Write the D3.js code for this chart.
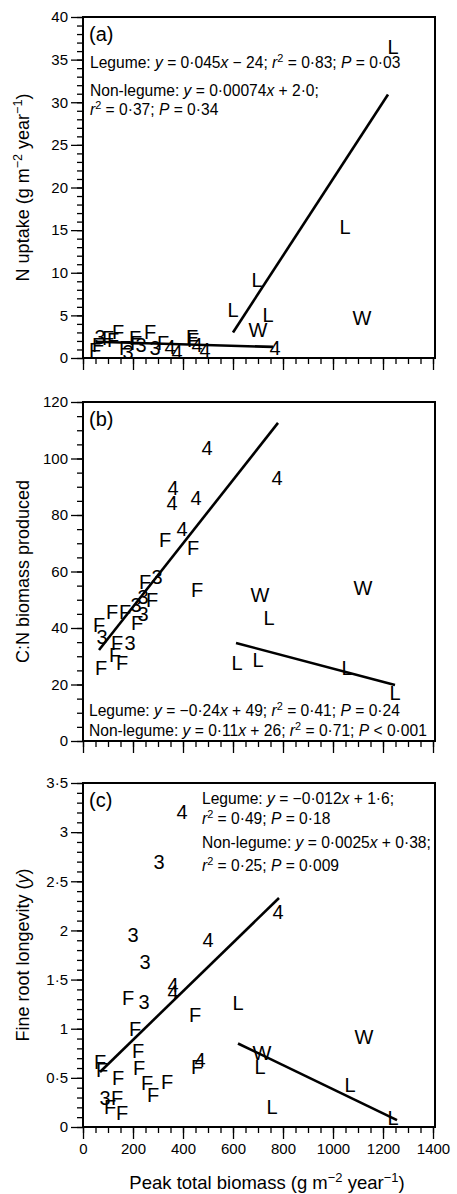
<!DOCTYPE html>
<html>
<head>
<meta charset="utf-8">
<script src="https://cdn.jsdelivr.net/npm/d3@7"></script>
<style>
  body { margin: 0; background: #fff; }
  svg { display: block; font-family: "Liberation Sans", Arial, sans-serif; }
</style>
</head>
<body>
<svg id="chart" width="457" height="1194"></svg>
<script>
// --- data (x = peak total biomass, y = response) ---
const xTicks = [0, 200, 400, 600, 800, 1000, 1200, 1400]

// panel (a): N uptake
const pointsA = [
  ["L", 1240, 36.5], ["L", 1048, 15.4], ["L", 696, 9.2], ["L", 600, 5.6], ["L", 740, 5.0],
  ["W", 700, 3.3], ["W", 1116, 4.7], ["4", 768, 1.2],
  ["F", 48, 0.9], ["F", 60, 1.5], ["3", 68, 2.5], ["F", 100, 2.3], ["F", 140, 3.1], ["F", 120, 2.1],
  ["F", 168, 1.2], ["3", 180, 0.7], ["F", 208, 2.3], ["F", 268, 3.1], ["F", 212, 1.8], ["3", 232, 1.5],
  ["3", 288, 1.2], ["F", 320, 1.8], ["4", 348, 1.3], ["4", 376, 0.7], ["F", 436, 2.5], ["F", 440, 2.1],
  ["4", 456, 1.5], ["4", 488, 0.9]
]
const legumeLineA = [[600, 3.0], [1220, 30.9]]
const nonLegumeLineA = [[50, 1.9], [760, 1.3]]

// panel (b): C:N biomass produced
const pointsB = [
  ["4", 496, 103.7], ["4", 776, 93.1], ["4", 360, 89.6], ["4", 356, 84.2], ["4", 452, 86], ["4", 396, 75],
  ["F", 328, 71.2], ["F", 440, 68.3], ["F", 248, 56.3], ["3", 296, 58], ["F", 456, 53.5],
  ["W", 708, 51.7], ["W", 1120, 54.2], ["L", 744, 43.5],
  ["F", 276, 50], ["3", 240, 51], ["3", 212, 48], ["3", 240, 45], ["F", 116, 45.7], ["F", 168, 45.7],
  ["F", 216, 41.8], ["F", 64, 41], ["3", 76, 36.8], ["F", 136, 34.7], ["3", 188, 34.7],
  ["F", 128, 30.4], ["F", 156, 27.6], ["F", 72, 25.8],
  ["L", 616, 27.6], ["L", 700, 28.7], ["L", 1056, 25.8], ["L", 1248, 17]
]
const legumeLineB = [[612, 34.7], [1248, 19.8]]
const nonLegumeLineB = [[64, 32.2], [780, 112.6]]

// panel (c): fine root longevity
const pointsC = [
  ["4", 396, 3.2], ["3", 304, 2.7], ["4", 780, 2.19], ["3", 200, 1.95], ["4", 500, 1.9], ["3", 248, 1.68],
  ["4", 360, 1.44], ["4", 360, 1.37], ["F", 180, 1.31], ["3", 244, 1.27], ["L", 620, 1.26],
  ["F", 448, 1.14], ["F", 208, 1.0], ["F", 220, 0.77], ["W", 1124, 0.92], ["W", 716, 0.75],
  ["L", 708, 0.61], ["4", 468, 0.68], ["F", 456, 0.61], ["F", 68, 0.66], ["F", 76, 0.58],
  ["F", 140, 0.5], ["F", 224, 0.6], ["F", 256, 0.45], ["F", 336, 0.46], ["F", 280, 0.33],
  ["3", 88, 0.29], ["F", 136, 0.29], ["F", 108, 0.2], ["F", 156, 0.14],
  ["L", 756, 0.2], ["L", 1068, 0.43], ["L", 1240, 0.09]
]
const legumeLineC = [[620, 0.85], [1256, 0.07]]
const nonLegumeLineC = [[68, 0.56], [784, 2.33]]

const panels = [
  { tag: "(a)", yDomain: [0, 40], yRange: [358, 17], yMajor: 5, yMinor: 1,
    points: pointsA, lines: [legumeLineA, nonLegumeLineA],
    title: "N uptake (g m^−2^ year^−1^)",
    notes: [
      [90, 68, "Legume: {y} = 0·045{x} − 24; {r}^2^ = 0·83; {P} = 0·03"],
      [90, 96, "Non-legume: {y} = 0·00074{x} + 2·0;"],
      [90, 115, "{r}^2^ = 0·37; {P} = 0·34"]
    ] },
  { tag: "(b)", yDomain: [0, 120], yRange: [741, 402], yMajor: 20, yMinor: 5,
    points: pointsB, lines: [legumeLineB, nonLegumeLineB],
    title: "C:N biomass produced",
    notes: [
      [89, 716, "Legume: {y} = −0·24{x} + 49; {r}^2^ = 0·41; {P} = 0·24"],
      [89, 736, "Non-legume: {y} = 0·11{x} + 26; {r}^2^ = 0·71; {P} < 0·001"]
    ] },
  { tag: "(c)", yDomain: [0, 3.5], yRange: [1127, 783], yMajor: 0.5, yMinor: 0.1,
    points: pointsC, lines: [legumeLineC, nonLegumeLineC],
    title: "Fine root longevity ({y})",
    notes: [
      [202, 804, "Legume: {y} = −0·012{x} + 1·6;"],
      [202, 824, "{r}^2^ = 0·49; {P} = 0·18"],
      [202, 848, "Non-legume: {y} = 0·0025{x} + 0·38;"],
      [202, 871, "{r}^2^ = 0·25; {P} = 0·009"]
    ] }
]

const svg = d3.select("#chart")
const x = d3.scaleLinear().domain([0, 1400]).range([83, 433])
const dot = v => String(+v.toFixed(2)).replace(".", "·")

// {..} italic, ^..^ superscript
function rich(sel, str, size) {
  const parts = str.split(/(\{[^}]*\}|\^[^^]*\^)/).filter(s => s !== "")
  let shifted = false
  parts.forEach(p => {
    const ts = sel.append("tspan")
    if (p.startsWith("{")) {
      ts.text(p.slice(1, -1)).attr("font-style", "italic")
    } else if (p.startsWith("^")) {
      ts.text(p.slice(1, -1)).attr("font-size", size * 0.7).attr("dy", -size * 0.4)
      shifted = true
      return
    } else {
      ts.text(p)
    }
    if (shifted) { ts.attr("dy", size * 0.4); shifted = false }
  })
  if (shifted) sel.append("tspan").attr("dy", size * 0.4).text("")
}

panels.forEach((p, i) => {
  const y = d3.scaleLinear().domain(p.yDomain).range(p.yRange)
  const g = svg.append("g")
  const bottom = p.yRange[0], top = p.yRange[1]

  // x axis: minor + major ticks
  const xMinor = g.append("g").attr("transform", `translate(0,${bottom})`)
    .call(d3.axisBottom(x).tickValues(d3.range(0, 1401, 50)).tickSize(6).tickFormat(""))
  const xMajor = g.append("g").attr("transform", `translate(0,${bottom})`)
    .call(d3.axisBottom(x).tickValues(xTicks).tickSize(12).tickPadding(4)
      .tickFormat(i === 2 ? d3.format("d") : ""))

  // y axis
  const nMinor = Math.round((p.yDomain[1] - p.yDomain[0]) / p.yMinor)
  const yMinorVals = d3.range(nMinor + 1).map(k => p.yDomain[0] + k * p.yMinor)
  const nMajor = Math.round((p.yDomain[1] - p.yDomain[0]) / p.yMajor)
  const yMajorVals = d3.range(nMajor + 1).map(k => p.yDomain[0] + k * p.yMajor)
  const yMinorAx = g.append("g").attr("transform", "translate(83,0)")
    .call(d3.axisLeft(y).tickValues(yMinorVals).tickSize(6).tickFormat(""))
  const yMajorAx = g.append("g").attr("transform", "translate(83,0)")
    .call(d3.axisLeft(y).tickValues(yMajorVals).tickSize(12).tickPadding(3).tickFormat(dot))

  ;[xMinor, xMajor, yMinorAx, yMajorAx].forEach(a => {
    a.select(".domain").remove()
    a.selectAll("line").attr("stroke", "#000").attr("stroke-width", 1.3)
    a.selectAll("text").attr("font-size", 15).attr("fill", "#000")
      .attr("font-family", "Liberation Sans, Arial, sans-serif")
  })

  // frame
  g.append("rect")
    .attr("x", 83).attr("y", top).attr("width", 352).attr("height", bottom - top)
    .attr("fill", "none").attr("stroke", "#000").attr("stroke-width", 2)

  // regression lines
  const line = d3.line().x(d => x(d[0])).y(d => y(d[1]))
  p.lines.forEach(l => {
    g.append("path").attr("d", line(l)).attr("fill", "none")
      .attr("stroke", "#000").attr("stroke-width", 2.6)
  })

  // letter markers
  g.selectAll("text.pt").data(p.points).enter().append("text")
    .attr("class", "pt")
    .attr("x", d => x(d[1])).attr("y", d => y(d[2]))
    .attr("text-anchor", "middle").attr("dominant-baseline", "central")
    .attr("font-size", 20).attr("fill", "#000")
    .text(d => d[0])

  // panel tag
  g.append("text").attr("x", 89).attr("y", top + 24).attr("font-size", 20).text(p.tag)

  // regression notes
  p.notes.forEach(n => {
    const t = g.append("text").attr("x", n[0]).attr("y", n[1]).attr("font-size", 15.6)
    rich(t, n[2], 15.6)
  })

  // y title
  const yt = g.append("text")
    .attr("transform", `translate(29,${(top + bottom) / 2}) rotate(-90)`)
    .attr("text-anchor", "middle").attr("font-size", 18)
  rich(yt, p.title, 18)
})

// x title
const xt = svg.append("text").attr("x", 267).attr("y", 1189)
  .attr("text-anchor", "middle").attr("font-size", 18.5)
rich(xt, "Peak total biomass (g m^−2^ year^−1^)", 18.5)
</script>
</body>
</html>
